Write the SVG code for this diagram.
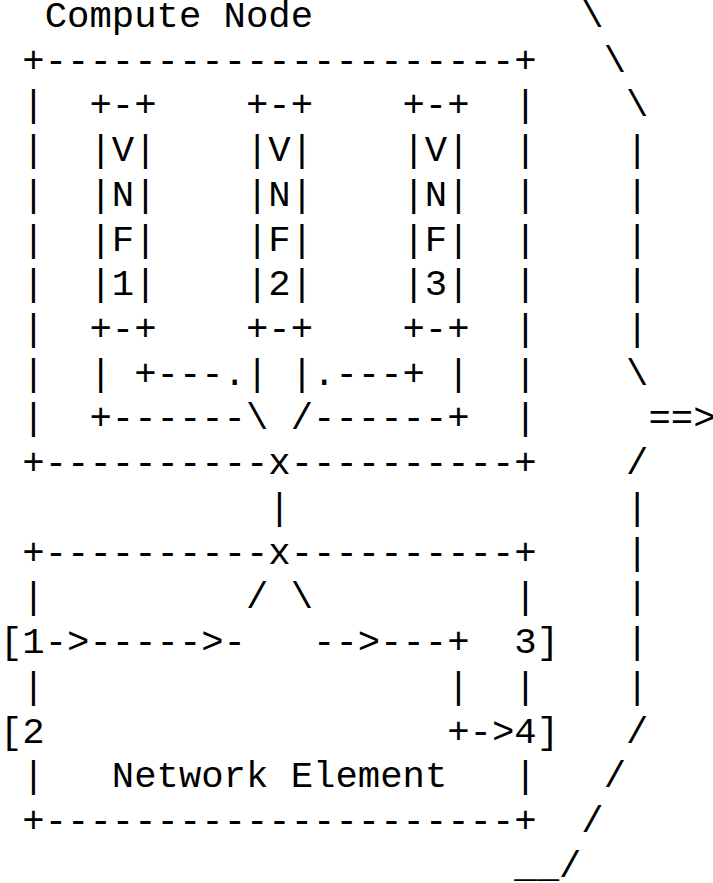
<svg xmlns="http://www.w3.org/2000/svg" width="713" height="883" viewBox="0 0 713 883" xml:space="preserve">
<style>
text { font-family: "Liberation Mono", "Courier New", monospace; font-size: 37.27px; fill: #000; white-space: pre; }
</style>
<rect x="0" y="0" width="713" height="883" fill="#fff"/>
<g id="compute-node">
<text x="44.72" y="27">Compute Node</text>
<text x="22.36" y="71.72">+---------------------+</text>
<text x="22.36" y="116.44">|</text><text x="514.28" y="116.44">|</text>
<text x="22.36" y="161.16">|</text><text x="514.28" y="161.16">|</text>
<text x="22.36" y="205.88">|</text><text x="514.28" y="205.88">|</text>
<text x="22.36" y="250.6">|</text><text x="514.28" y="250.6">|</text>
<text x="22.36" y="295.32">|</text><text x="514.28" y="295.32">|</text>
<text x="22.36" y="340.04">|</text><text x="514.28" y="340.04">|</text>
<text x="22.36" y="384.76">|</text><text x="514.28" y="384.76">|</text>
<text x="22.36" y="429.48">|</text><text x="514.28" y="429.48">|</text>
<text x="22.36" y="474.2">+----------x----------+</text>
</g>
<g id="vnf1">
<text x="89.44" y="116.44">+-+</text>
<text x="89.44" y="161.16">|V|</text>
<text x="89.44" y="205.88">|N|</text>
<text x="89.44" y="250.6">|F|</text>
<text x="89.44" y="295.32">|1|</text>
<text x="89.44" y="340.04">+-+</text>
</g>
<g id="vnf2">
<text x="245.96" y="116.44">+-+</text>
<text x="245.96" y="161.16">|V|</text>
<text x="245.96" y="205.88">|N|</text>
<text x="245.96" y="250.6">|F|</text>
<text x="245.96" y="295.32">|2|</text>
<text x="245.96" y="340.04">+-+</text>
</g>
<g id="vnf3">
<text x="402.48" y="116.44">+-+</text>
<text x="402.48" y="161.16">|V|</text>
<text x="402.48" y="205.88">|N|</text>
<text x="402.48" y="250.6">|F|</text>
<text x="402.48" y="295.32">|3|</text>
<text x="402.48" y="340.04">+-+</text>
</g>
<g id="network-element">
<text x="22.36" y="563.64">+----------x----------+</text>
<text x="22.36" y="608.36">|</text><text x="514.28" y="608.36">|</text>
<text x="0" y="653.08">[1</text><text x="514.28" y="653.08">3]</text>
<text x="22.36" y="697.8">|</text><text x="514.28" y="697.8">|</text>
<text x="0" y="742.52">[2</text><text x="514.28" y="742.52">4]</text>
<text x="22.36" y="787.24">|</text><text x="111.8" y="787.24">Network Element</text><text x="514.28" y="787.24">|</text>
<text x="22.36" y="831.96">+---------------------+</text>
</g>
<g id="connectors">
<text x="89.44" y="384.76">| +---.| |.---+ |</text>
<text x="89.44" y="429.48">+------\ /------+</text>
<text x="268.32" y="518.92">|</text>
<text x="245.96" y="608.36">/ \</text>
<text x="44.72" y="653.08">-&gt;-----&gt;-</text>
<text x="313.04" y="653.08">--&gt;---+</text>
<text x="447.2" y="697.8">|</text>
<text x="447.2" y="742.52">+-&gt;</text>
</g>
<g id="transition-bracket">
<text x="581.36" y="27">\</text>
<text x="603.72" y="71.72">\</text>
<text x="626.08" y="116.44">\</text>
<text x="626.08" y="161.16">|</text>
<text x="626.08" y="205.88">|</text>
<text x="626.08" y="250.6">|</text>
<text x="626.08" y="295.32">|</text>
<text x="626.08" y="340.04">|</text>
<text x="626.08" y="384.76">\</text>
<text x="648.44" y="429.48">==&gt;</text>
<text x="626.08" y="474.2">/</text>
<text x="626.08" y="518.92">|</text>
<text x="626.08" y="563.64">|</text>
<text x="626.08" y="608.36">|</text>
<text x="626.08" y="653.08">|</text>
<text x="626.08" y="697.8">|</text>
<text x="626.08" y="742.52">/</text>
<text x="603.72" y="787.24">/</text>
<text x="581.36" y="831.96">/</text>
<text x="514.28" y="876.68">__/</text>
</g>
</svg>
